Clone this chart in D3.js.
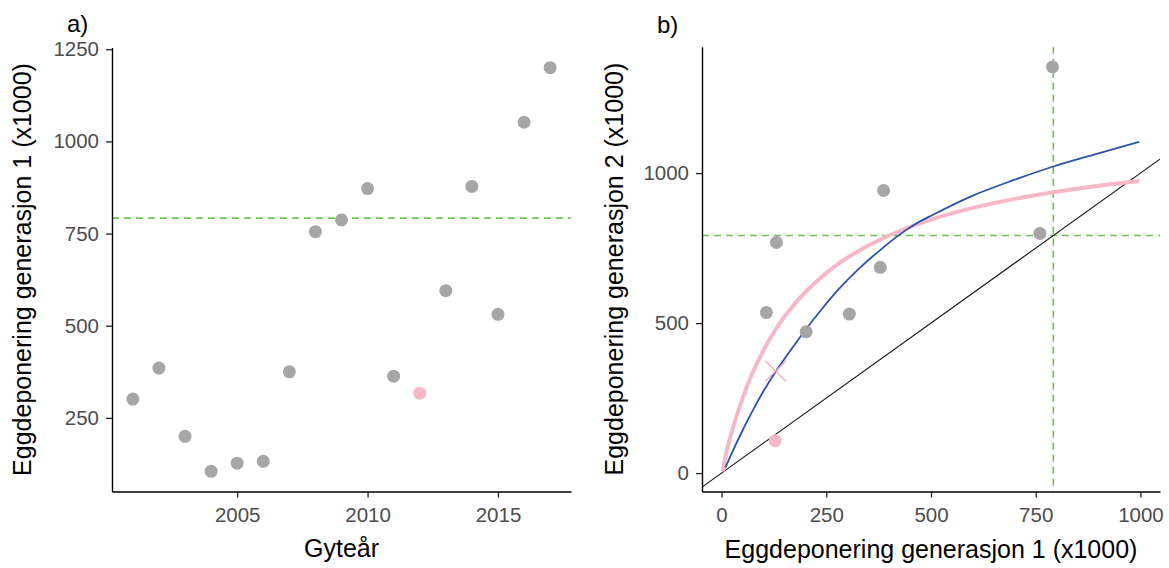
<!DOCTYPE html>
<html>
<head>
<meta charset="utf-8">
<script src="https://cdn.jsdelivr.net/npm/d3@7"></script>
<style>
  body { margin: 0; background: #fff; }
  svg text { font-family: "Liberation Sans", Arial, sans-serif; }
</style>
</head>
<body>
<svg id="chart" width="1169" height="568"></svg>
<script>
// ---- Panel a: egg deposition by spawning year ----
const years = [2001, 2002, 2003, 2004, 2005, 2006, 2007, 2008, 2009, 2010, 2011, 2012, 2013, 2014, 2015, 2016, 2017];
const gen1  = [301, 385, 200, 105, 127, 132, 375, 755, 787, 872, 363, 317, 595, 878, 531, 1052, 1200];
const highlightYear = 2012;
const targetLevel = 792;
const yearTicks = [2005, 2010, 2015];
const gen1Ticks = [250, 500, 750, 1000, 1250];

// ---- Panel b: generation 2 against generation 1 ----
const pairX = [107, 131, 202, 305, 379, 387, 760, 790];
const pairY = [535, 769, 471, 530, 686, 942, 799, 1354];
const pinkPairX = [128];
const pinkPairY = [108];
const crossX = [129];
const crossY = [340];
const blueX = [9, 25, 50, 75, 100, 129, 160, 200, 240, 283, 330, 380, 420, 460, 506, 600, 700, 792, 900, 997];
const blueY = [18, 68, 142, 210, 273, 338, 400, 477, 548, 618, 684, 745, 790, 828, 862, 925, 978, 1022, 1066, 1104];
const pinkX = [3, 10, 25, 50, 75, 100, 130, 175, 225, 275, 325, 400, 500, 600, 700, 792, 900, 997];
const pinkY = [6, 60, 140, 249, 337, 409, 481, 565, 637, 694, 739, 792, 845, 884, 914, 936, 958, 974];
const bTicksX = [0, 250, 500, 750, 1000];
const bTicksY = [0, 500, 1000];

const GREY_PT = "#a6a6a6", PINK = "#f6b8c6", BLUE = "#2a52a8", GREEN = "#6cc35a";
const TICK_COL = "#4d4d4d";

const svg = d3.select("#chart");

// ggplot-style 5% padding of a continuous range
function expand(ext, f = 0.05) {
  const d = ext[1] - ext[0];
  return [ext[0] - d * f, ext[1] + d * f];
}

function styleAxis(g) {
  g.select(".domain").attr("stroke", "#000").attr("stroke-width", 1.4);
  g.selectAll(".tick line").attr("stroke", "#222").attr("stroke-width", 1.3);
  g.selectAll(".tick text").attr("fill", TICK_COL).style("font-size", "20.5px");
}

// ================= Panel a =================
{
  const L = 112, R = 571, T = 47.5, B = 491.5;
  const x = d3.scaleLinear().domain(expand(d3.extent(years))).range([L, R]);
  const y = d3.scaleLinear().domain(expand(d3.extent(gen1))).range([B, T]);
  const g = svg.append("g");

  g.append("line")
    .attr("x1", L).attr("x2", R)
    .attr("y1", y(targetLevel)).attr("y2", y(targetLevel))
    .attr("stroke", GREEN).attr("stroke-width", 1.6).attr("stroke-dasharray", "7,5");

  g.selectAll("circle.pt").data(years.map((yr, i) => ({ yr, v: gen1[i] })))
    .join("circle").attr("class", "pt")
    .attr("cx", d => x(d.yr)).attr("cy", d => y(d.v)).attr("r", 6.5)
    .attr("fill", d => d.yr === highlightYear ? PINK : GREY_PT);

  g.append("g").attr("transform", `translate(0,${B})`)
    .call(d3.axisBottom(x).tickValues(yearTicks).tickFormat(d3.format("d"))
      .tickSize(6).tickSizeOuter(0).tickPadding(10))
    .call(styleAxis);
  g.append("g").attr("transform", `translate(${L},0)`)
    .call(d3.axisLeft(y).tickValues(gen1Ticks).tickFormat(d3.format("d"))
      .tickSize(6).tickSizeOuter(0).tickPadding(7))
    .call(styleAxis);

  g.append("text").attr("x", (L + R) / 2).attr("y", 557).attr("text-anchor", "middle")
    .style("font-size", "25px").attr("fill", "#000").text("Gyteår");
  g.append("text").attr("transform", `translate(31,${(T + B) / 2}) rotate(-90)`)
    .attr("text-anchor", "middle").style("font-size", "25px").attr("fill", "#000")
    .text("Eggdeponering generasjon 1 (x1000)");
  g.append("text").attr("x", 67).attr("y", 32).style("font-size", "24px").attr("fill", "#000").text("a)");
}

// ================= Panel b =================
{
  const L = 702, R = 1160, T = 46.7, B = 491.5;
  const allX = pairX.concat(pinkPairX, crossX, blueX, pinkX);
  const allY = pairY.concat(pinkPairY, crossY, blueY, pinkY);
  const x = d3.scaleLinear().domain(expand(d3.extent(allX))).range([L, R]);
  const y = d3.scaleLinear().domain(expand(d3.extent(allY))).range([B, T]);
  const g = svg.append("g");

  g.append("clipPath").attr("id", "clipB")
    .append("rect").attr("x", L).attr("y", T).attr("width", R - L).attr("height", B - T);
  const plot = g.append("g").attr("clip-path", "url(#clipB)");

  // target lines
  plot.append("line").attr("x1", L).attr("x2", R)
    .attr("y1", y(targetLevel)).attr("y2", y(targetLevel))
    .attr("stroke", GREEN).attr("stroke-width", 1.6).attr("stroke-dasharray", "7,5");
  plot.append("line").attr("y1", T).attr("y2", B)
    .attr("x1", x(targetLevel)).attr("x2", x(targetLevel))
    .attr("stroke", GREEN).attr("stroke-width", 1.6).attr("stroke-dasharray", "7,5");

  // 1:1 replacement line
  const dom = x.domain();
  plot.append("line")
    .attr("x1", x(dom[0])).attr("y1", y(dom[0]))
    .attr("x2", x(dom[1])).attr("y2", y(dom[1]))
    .attr("stroke", "#111").attr("stroke-width", 1.1);

  const line = d3.line().x(d => x(d[0])).y(d => y(d[1])).curve(d3.curveMonotoneX);
  plot.append("path").datum(pinkX.map((v, i) => [v, pinkY[i]]))
    .attr("d", line).attr("fill", "none").attr("stroke", PINK).attr("stroke-width", 4);
  plot.append("path").datum(blueX.map((v, i) => [v, blueY[i]]))
    .attr("d", line).attr("fill", "none").attr("stroke", BLUE).attr("stroke-width", 1.8);

  plot.selectAll("circle.pt").data(pairX.map((v, i) => [v, pairY[i]]))
    .join("circle").attr("class", "pt")
    .attr("cx", d => x(d[0])).attr("cy", d => y(d[1])).attr("r", 6.5).attr("fill", GREY_PT);
  plot.selectAll("circle.pk").data(pinkPairX.map((v, i) => [v, pinkPairY[i]]))
    .join("circle").attr("class", "pk")
    .attr("cx", d => x(d[0])).attr("cy", d => y(d[1])).attr("r", 6.5).attr("fill", PINK);

  // cross marker
  const cs = 10.5;
  crossX.forEach((cx0, i) => {
    const px = x(cx0), py = y(crossY[i]);
    plot.append("path")
      .attr("d", `M${px - cs},${py - cs}L${px + cs},${py + cs}M${px - cs},${py + cs}L${px + cs},${py - cs}`)
      .attr("stroke", "#f3a0b4").attr("stroke-width", 1.2).attr("fill", "none");
  });

  g.append("g").attr("transform", `translate(0,${B})`)
    .call(d3.axisBottom(x).tickValues(bTicksX).tickFormat(d3.format("d"))
      .tickSize(6).tickSizeOuter(0).tickPadding(10))
    .call(styleAxis);
  g.append("g").attr("transform", `translate(${L},0)`)
    .call(d3.axisLeft(y).tickValues(bTicksY).tickFormat(d3.format("d"))
      .tickSize(6).tickSizeOuter(0).tickPadding(7))
    .call(styleAxis);

  g.append("text").attr("x", (L + R) / 2).attr("y", 558).attr("text-anchor", "middle")
    .style("font-size", "25px").attr("fill", "#000").text("Eggdeponering generasjon 1 (x1000)");
  g.append("text").attr("transform", `translate(623,${(T + B) / 2}) rotate(-90)`)
    .attr("text-anchor", "middle").style("font-size", "25px").attr("fill", "#000")
    .text("Eggdeponering generasjon 2 (x1000)");
  g.append("text").attr("x", 657).attr("y", 33).style("font-size", "24px").attr("fill", "#000").text("b)");
}
</script>
</body>
</html>
